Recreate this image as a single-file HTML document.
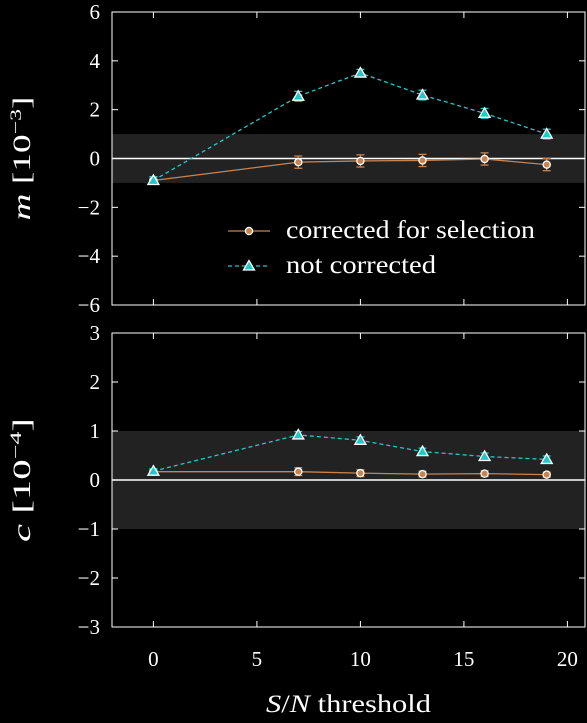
<!DOCTYPE html>
<html><head><meta charset="utf-8"><style>
body{margin:0;background:#000;}
svg{display:block;font-family:"Liberation Serif",serif;}
</style></head><body>
<svg id="c" width="587" height="723" xmlns="http://www.w3.org/2000/svg"></svg>
<script>
const thresholds=[0,7,10,13,16,19];
const mCorr=[-0.9,-0.15,-0.1,-0.08,-0.02,-0.25];
const mCorrErr=[0.15,0.25,0.25,0.25,0.25,0.25];
const mNot=[-0.9,2.55,3.5,2.6,1.85,1.0];
const mNotErr=[0.15,0.2,0.15,0.2,0.2,0.2];
const cCorr=[0.17,0.17,0.14,0.12,0.13,0.11];
const cCorrErr=[0.05,0.08,0.07,0.06,0.06,0.05];
const cNot=[0.18,0.92,0.81,0.58,0.48,0.42];
const cNotErr=[0.05,0.07,0.07,0.07,0.07,0.07];
const xTicks=[0,5,10,15,20];
const mTicks=[-6,-4,-2,0,2,4,6];
const cTicks=[-3,-2,-1,0,1,2,3];
const NS="http://www.w3.org/2000/svg";
const svg=document.getElementById('c');
function el(t,a,p){const e=document.createElementNS(NS,t);for(const k in a)e.setAttribute(k,a[k]);(p||svg).appendChild(e);return e;}
const X0=112,X1=585,xmin=-2,xmax=20.85;
const xs=v=>X0+(v-xmin)/(xmax-xmin)*(X1-X0);
const ORANGE="#c88450",CYAN="#22c8c8";
function panel(top,bot,ymin,ymax,ticks,corr,corrErr,nc,ncErr,name,ylab,ylabHtml){
  const ys=v=>bot-(v-ymin)/(ymax-ymin)*(bot-top);
  const g=el('g',{});
  
  
  const band=el('rect',{x:X0,y:ys(1),width:X1-X0,height:ys(-1)-ys(1),fill:'#222'},g);
  
  el('line',{x1:X0,x2:X1,y1:ys(0),y2:ys(0),stroke:'#fff','stroke-width':1.5},g);
  const fr=el('rect',{x:X0,y:top,width:X1-X0,height:bot-top,fill:'none',stroke:'#fff','stroke-width':1},g);
  
  ticks.forEach(t=>{const y=ys(t);
    el('line',{x1:X0,x2:X0+6,y1:y,y2:y,stroke:'#fff'},g);el('line',{x1:X1-6,x2:X1,y1:y,y2:y,stroke:'#fff'},g);
    const tx=el('text',{x:X0-12,y:y+7,fill:'#fff','font-size':21,'text-anchor':'end'},g);tx.textContent=(t<0?'\u2212'+(-t):t);
    });
  xTicks.forEach(t=>{const x=xs(t);el('line',{x1:x,x2:x,y1:bot,y2:bot-6,stroke:'#fff'},g);el('line',{x1:x,x2:x,y1:top,y2:top+6,stroke:'#fff'},g);});
  function series(vals,errs,col,dash,marker,sname){
    const pts=thresholds.map((t,i)=>xs(t)+','+ys(vals[i])).join(' ');
    const pl=el('polyline',{points:pts,fill:'none',stroke:col,'stroke-width':1.3,'stroke-dasharray':dash||''},g);
    
    thresholds.forEach((t,i)=>{const x=xs(t),y=ys(vals[i]),y1=ys(vals[i]+errs[i]),y2=ys(vals[i]-errs[i]);
      el('line',{x1:x,x2:x,y1:y1,y2:y2,stroke:col,'stroke-width':1.3},g);
      el('line',{x1:x-4,x2:x+4,y1:y1,y2:y1,stroke:col,'stroke-width':1.3},g);
      el('line',{x1:x-4,x2:x+4,y1:y2,y2:y2,stroke:col,'stroke-width':1.3},g);
      let m;
      if(marker==='o')m=el('circle',{cx:x,cy:y,r:3.6,fill:col,stroke:'#fff','stroke-width':1.3},g);
      else m=el('polygon',{points:`${x},${y-5.5} ${x-5.5},${y+4} ${x+5.5},${y+4}`,fill:col,stroke:'#fff','stroke-width':1.3},g);
      });
  }
  series(corr,corrErr,ORANGE,'','o','corrected');
  series(nc,ncErr,CYAN,'4,3','^','not-corrected');
  const yl=el('text',{transform:`translate(30,${(top+bot)/2}) rotate(-90)`,fill:'#fff','font-size':25,'text-anchor':'middle',textLength:124,lengthAdjust:'spacingAndGlyphs'},g);
  yl.innerHTML=ylabHtml;
  
  return ys;
}
panel(12,305,-6,6,mTicks,mCorr,mCorrErr,mNot,mNotErr,'m-panel','m-axis-title','<tspan font-style="italic">m</tspan> [10<tspan dy="-9" font-size="16">−3</tspan><tspan dy="9">]</tspan>');
panel(333,627,-3,3,cTicks,cCorr,cCorrErr,cNot,cNotErr,'c-panel','c-axis-title','<tspan font-style="italic">c</tspan> [10<tspan dy="-9" font-size="16">−4</tspan><tspan dy="9">]</tspan>');
xTicks.forEach(t=>{const tx=el('text',{x:xs(t),y:666,fill:'#fff','font-size':21,'text-anchor':'middle'});tx.textContent=t;
  });
const xl=el('text',{x:266,y:712,fill:'#fff','font-size':25,textLength:165,lengthAdjust:'spacingAndGlyphs'});
xl.innerHTML='<tspan font-style="italic">S</tspan>/<tspan font-style="italic">N</tspan> threshold';

// legend
const lg=el('g',{});

el('line',{x1:228,x2:270,y1:231,y2:231,stroke:ORANGE,'stroke-width':1.3},lg);
el('circle',{cx:249,cy:231,r:3.6,fill:ORANGE,stroke:'#fff','stroke-width':1.3},lg);
const t1=el('text',{x:286,y:238,fill:'#fff','font-size':25,textLength:249,lengthAdjust:'spacingAndGlyphs'},lg);t1.textContent='corrected for selection';

el('line',{x1:228,x2:270,y1:266,y2:266,stroke:CYAN,'stroke-width':1.3,'stroke-dasharray':'4,3'},lg);
el('polygon',{points:'249,260.5 243.5,270 254.5,270',fill:CYAN,stroke:'#fff','stroke-width':1.3},lg);
const t2=el('text',{x:286,y:273,fill:'#fff','font-size':25,textLength:150,lengthAdjust:'spacingAndGlyphs'},lg);t2.textContent='not corrected';

</script>
</body></html>
